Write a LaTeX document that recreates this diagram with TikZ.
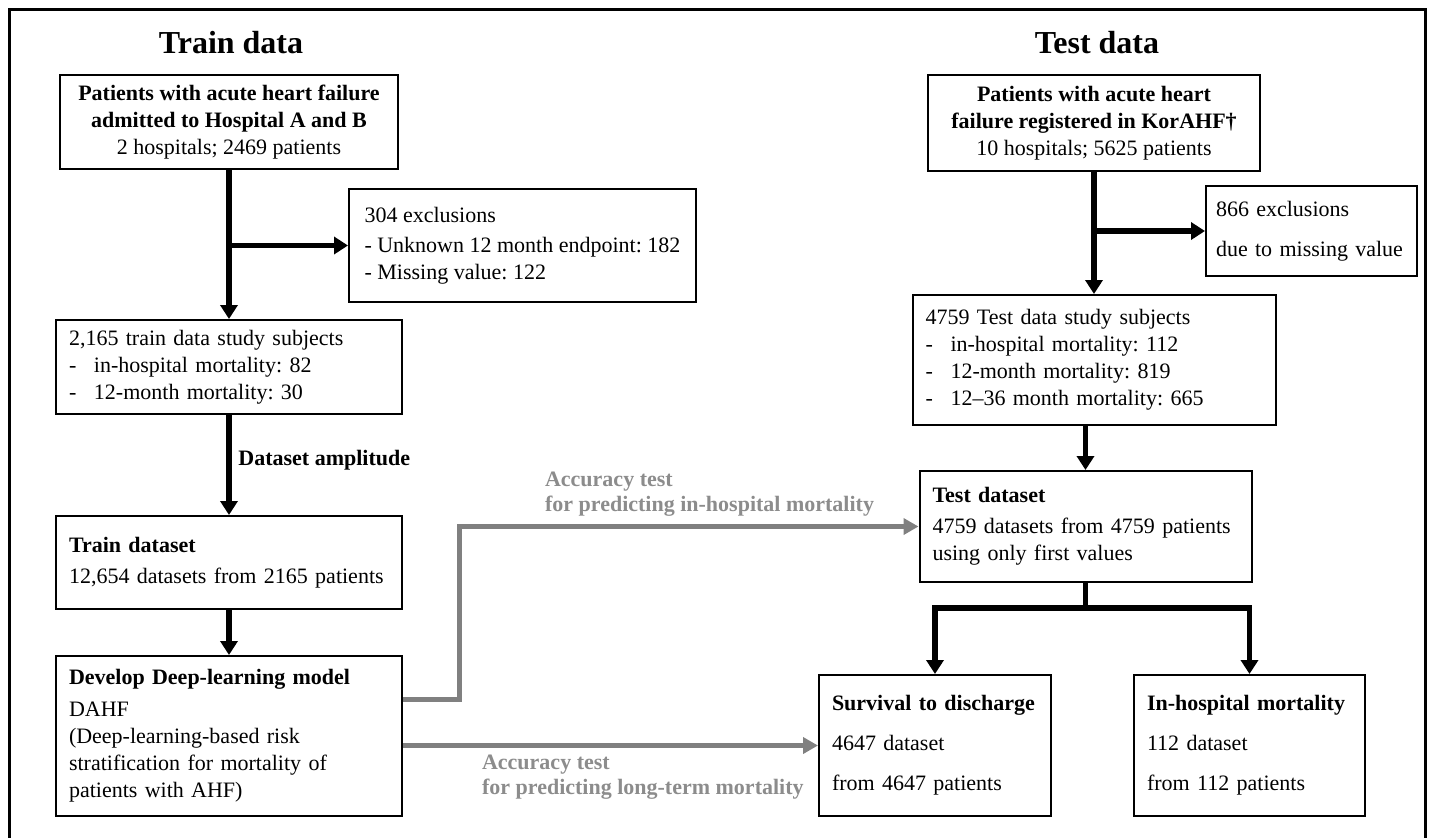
\documentclass[tikz,border=0pt]{standalone}
\usepackage{fontspec}
\setmainfont{Liberation Serif}
\usepackage{tikz}
\usetikzlibrary{arrows.meta,positioning}
\definecolor{linkgray}{RGB}{128,128,128}
\definecolor{notegray}{RGB}{140,140,140}
\newcommand{\ditem}{\makebox[12.5pt][l]{-}}

\begin{document}
\frenchspacing
\begin{tikzpicture}[
  x=0.5pt, y=-0.5pt,
  every node/.style={font=\fontsize{11}{13.5}\selectfont},
  box/.style={draw, line width=1pt, inner xsep=6.5pt, inner ysep=3pt},
  headbox/.style={box, align=center},
  listbox/.style={box, align=left},
  title/.style={font=\fontsize{16}{19}\selectfont\bfseries},
  tag/.style={font=\fontsize{11}{13.5}\selectfont\bfseries},
  note/.style={font=\fontsize{11}{12.5}\selectfont\bfseries, text=notegray, align=left},
  arrow/.style={-{Triangle[length=7pt,width=8.5pt]}, line width=2.75pt},
  link/.style={-{Triangle[length=7.5pt,width=8pt]}, line width=2.5pt, draw=linkgray}
]
\useasboundingbox (0,0) rectangle (1430,837);
\draw[line width=1.5pt] (9,840) -- (9,9) -- (1425,9) -- (1425,840);

\node[title] (traintitle) at (231,43) {Train data};
\node[title] (testtitle) at (1097,43) {Test data};

\node[headbox, minimum width=169pt, minimum height=47pt] (trainpat) at (229,122)
  {\textbf{Patients with acute heart failure}\\\textbf{admitted to Hospital A and B}\\2 hospitals; 2469 patients};
\node[listbox, inner xsep=4pt, minimum width=173.5pt, minimum height=56.5pt] (trainexcl) at (522.5,245.5)
  {304 exclusions\\[1.5pt]- Unknown 12 month endpoint: 182\\- Missing value: 122};
\node[listbox, text width=160pt, minimum height=47pt, below=74.5pt of trainpat] (trainsubj)
  {2,165 train data study subjects\\\ditem in-hospital mortality: 82\\\ditem 12-month mortality: 30};
\node[listbox, text width=160pt, minimum height=46.5pt, below=50pt of trainsubj] (trainset)
  {\textbf{Train dataset}\\[2pt]12,654 datasets from 2165 patients};
\node[listbox, text width=160pt, minimum height=80pt, below=22.5pt of trainset] (model)
  {\textbf{Develop Deep-learning model}\\[2.5pt]DAHF\\(Deep-learning-based risk\\stratification for mortality of\\patients with AHF)};

\node[headbox, minimum width=166pt, minimum height=48pt] (testpat) at (1094,123)
  {\textbf{Patients with acute heart}\\\textbf{failure registered in KorAHF\textdagger}\\10 hospitals; 5625 patients};
\node[listbox, inner xsep=5pt, text width=95.5pt, minimum height=45pt] (testexcl) at (1311.5,231)
  {866 exclusions\\[6.5pt]due to missing value};
\node[listbox, text width=168.5pt, minimum height=65pt, below=61pt of testpat] (testsubj)
  {4759 Test data study subjects\\\ditem in-hospital mortality: 112\\\ditem 12-month mortality: 819\\\ditem 12–36 month mortality: 665};
\node[listbox, text width=153pt, minimum height=55.5pt, below=22pt of testsubj, xshift=-4.25pt] (testset)
  {\textbf{Test dataset}\\[2pt]4759 datasets from 4759 patients\\using only first values};
\node[listbox, text width=103pt, minimum height=70.5pt] (survive) at (935,745.5)
  {\textbf{Survival to discharge}\\[6.5pt]4647 dataset\\[6.5pt]from 4647 patients};
\node[listbox, text width=102.5pt, minimum height=70.5pt, right=40.5pt of survive] (death)
  {\textbf{In-hospital mortality}\\[6.5pt]112 dataset\\[6.5pt]from 112 patients};

\draw[arrow] (trainpat.south) -- (trainpat.south |- trainsubj.north);
\draw[arrow] (trainpat.south |- trainexcl.west) -- (trainexcl.west);
\draw[arrow] (trainsubj) -- node[tag, right, pos=0.45] {Dataset amplitude} (trainset);
\draw[arrow] (trainset) -- (model);

\draw[arrow] (testpat.south) -- (testpat.south |- testsubj.north);
\draw[arrow] (testpat.south |- testexcl.west) -- (testexcl.west);
\draw[arrow] (testsubj.south -| testset.north) -- (testset.north);
\draw[arrow] (testset.south) -- ++(0,25) -| (survive.north);
\draw[arrow] (testset.south) -- ++(0,25) -| (death.north);

\draw[link] ([yshift=18.5pt]model.east) -- ++(56,0) |- (testset.west);
\draw[link] (model.east |- survive.west) -- (survive.west);

\node[note, anchor=west] (notein) at (538,494.5) {Accuracy test\\for predicting in-hospital mortality};
\node[note, anchor=west] (notelong) at (475,777.5) {Accuracy test\\for predicting long-term mortality};
\end{tikzpicture}
\end{document}
